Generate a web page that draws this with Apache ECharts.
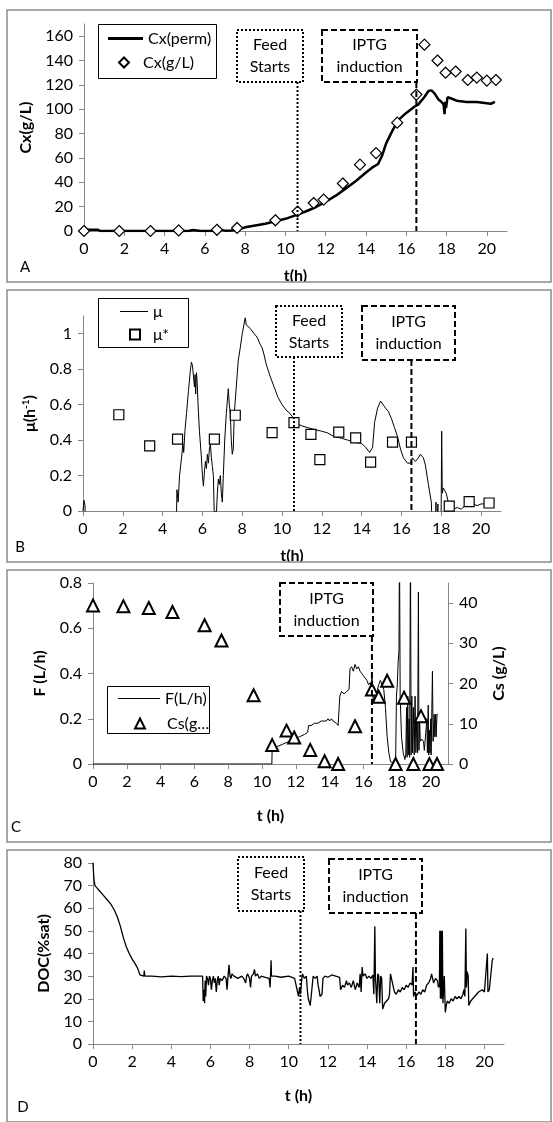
<!DOCTYPE html>
<html lang="en">
<head>
<meta charset="UTF-8">
<title>Fed-batch culture</title>
<script src="https://cdn.jsdelivr.net/npm/echarts@6/dist/echarts.min.js"></script>
<style>body{margin:0;background:#fff}</style>
</head>
<body>
<div id="main" style="width:553px;height:1122px;"></div>
<script type="text/javascript">
// ---- data ----
var tTicks = [0, 2, 4, 6, 8, 10, 12, 14, 16, 18, 20];
var feedT = 10.6;   // feed starts
var iptgT = 16.5;   // IPTG induction

// A: biomass
var cxPerm = [[0,1],[0.3,1],[0.7,1],[0.8,0],[2,0],[4,0],[5.2,0],[5.4,0.8],[5.6,0.5],[5.8,0],[6.5,0],[6.7,1.2],[7.0,0.3],[7.3,0.5],[7.6,1],[8.0,3],[8.5,4.5],[9.0,6],[9.5,8],[10.0,10],[10.6,13.5],[11.0,16],[11.5,19.5],[12.0,24],[12.5,29],[13.0,35],[13.5,41],[14.0,48],[14.3,52],[14.6,55],[14.8,62],[15.0,72],[15.3,82],[15.6,91],[16.0,97],[16.4,102],[16.6,104],[16.9,110],[17.1,115],[17.25,115.5],[17.4,113],[17.6,108],[17.75,106],[17.85,104],[17.9,96],[17.93,106],[17.97,101],[18.05,110],[18.2,109],[18.5,107],[19.0,106],[19.5,106],[20.0,105],[20.2,104.5],[20.4,106]];
var cxSampleT = [0,1.75,3.3,4.7,6.6,7.6,9.5,10.6,11.4,11.9,12.85,13.7,14.5,15.55,16.5,16.9,17.55,17.95,18.45,19.05,19.5,20.0,20.45];
var cxSample  = [0,0,0,0.5,1,2.5,8.8,16,23,25.8,39,54.5,64,89,112,153,140,130,131,124,126,123.5,124];

// B: specific growth rate
var muCurve = [[0,0],[0.05,0.06],[0.1,0.03],[0.15,-0.3],[4.65,-0.3],[4.72,0.12],[4.78,0.05],[4.85,0.2],[4.95,0.3],[5.02,0.38],[5.06,0.33],[5.12,0.45],[5.2,0.55],[5.3,0.68],[5.4,0.8],[5.45,0.84],[5.5,0.82],[5.55,0.83],[5.6,0.7],[5.63,0.77],[5.66,0.66],[5.7,0.78],[5.74,0.72],[5.78,0.6],[5.85,0.45],[5.95,0.3],[6.0,0.2],[6.05,0.14],[6.1,0.22],[6.15,0.28],[6.2,0.24],[6.25,0.32],[6.3,0.27],[6.35,0.35],[6.4,0.38],[6.45,0.3],[6.5,0.25],[6.55,0.2],[6.6,-0.05],[6.65,0.0],[6.7,-0.02],[6.75,0.1],[6.8,0.18],[6.85,0.15],[6.9,0.2],[6.95,0.1],[7.0,0.05],[7.05,0.2],[7.12,0.4],[7.2,0.55],[7.3,0.69],[7.35,0.6],[7.4,0.55],[7.45,0.4],[7.5,0.32],[7.55,0.35],[7.6,0.55],[7.7,0.7],[7.8,0.85],[7.9,0.92],[8.0,1.0],[8.1,1.06],[8.15,1.09],[8.2,1.05],[8.3,1.06],[8.4,1.03],[8.5,1.02],[8.6,1.0],[8.75,0.98],[8.9,0.94],[9.0,0.92],[9.1,0.88],[9.2,0.83],[9.4,0.76],[9.6,0.7],[9.8,0.64],[10.0,0.6],[10.2,0.57],[10.4,0.55],[10.6,0.52],[10.8,0.49],[11.0,0.48],[11.3,0.47],[11.6,0.46],[12.0,0.45],[12.3,0.44],[12.6,0.42],[13.0,0.41],[13.3,0.4],[13.6,0.39],[14.0,0.38],[14.2,0.36],[14.4,0.33],[14.5,0.32],[14.55,0.36],[14.65,0.5],[14.8,0.58],[14.95,0.62],[15.05,0.61],[15.2,0.58],[15.35,0.56],[15.5,0.52],[15.65,0.47],[15.8,0.42],[15.95,0.35],[16.1,0.3],[16.3,0.27],[16.45,0.27],[16.55,0.3],[16.7,0.28],[16.85,0.3],[16.95,0.32],[17.1,0.3],[17.2,0.26],[17.35,0.15],[17.5,0.05],[17.6,-0.3],[17.72,-0.3],[17.73,0.05],[17.74,-0.3],[17.82,-0.3],[17.83,0.04],[17.84,-0.3],[17.97,-0.3],[18.0,0.1],[18.02,0.45],[18.05,0.1],[18.1,0.13],[18.15,0.14],[18.25,0.1],[18.35,0.05],[18.5,0.03],[18.6,0.01],[18.8,0.02],[19.0,0.01],[19.2,0.03],[19.4,0.05],[19.6,0.04],[19.8,0.03],[20.0,0.04],[20.2,0.04],[20.45,0.05]];
var muStarT = [1.8,3.35,4.75,6.6,7.65,9.5,10.6,11.45,11.9,12.85,13.7,14.45,15.55,16.5,18.4,19.4,20.4];
var muStar  = [0.543,0.367,0.406,0.406,0.54,0.442,0.498,0.432,0.29,0.445,0.412,0.276,0.389,0.389,0.028,0.053,0.045];

// C: feed rate and substrate
var feedRate = [[0,0],[10.58,0],[10.6,0.08],[10.8,0.075],[11.0,0.08],[11.3,0.09],[11.6,0.1],[11.9,0.11],[12.2,0.12],[12.5,0.13],[12.7,0.14],[12.75,0.17],[12.9,0.17],[13.0,0.165],[13.1,0.18],[13.3,0.18],[13.5,0.19],[13.6,0.185],[13.8,0.19],[13.9,0.2],[14.0,0.19],[14.1,0.2],[14.2,0.19],[14.4,0.18],[14.5,0.17],[14.6,0.3],[14.7,0.32],[14.85,0.31],[15.0,0.32],[15.15,0.33],[15.2,0.42],[15.3,0.43],[15.4,0.41],[15.5,0.44],[15.6,0.42],[15.7,0.43],[15.8,0.41],[15.9,0.4],[16.0,0.39],[16.1,0.38],[16.2,0.37],[16.3,0.35],[16.4,0.36],[16.45,0.33],[16.5,0.4],[16.55,0.3],[16.6,0.27],[16.65,0.33],[16.7,0.3],[16.8,0.32],[16.9,0.35],[17.0,0.37],[17.1,0.37],[17.2,0.33],[17.3,0.25],[17.4,0.12],[17.5,0.05],[17.6,0.01],[17.9,0.0],[17.95,0.3],[18.0,0.35],[18.05,0.45],[18.1,0.5],[18.13,1.0],[18.17,0.3],[18.25,0.12],[18.35,0.05],[18.45,0.02],[18.5,0.04],[18.55,0.25],[18.58,0.03],[18.62,0.3],[18.65,0.04],[18.7,0.2],[18.73,0.03],[18.78,1.0],[18.82,0.04],[18.86,0.3],[18.9,0.05],[18.95,0.25],[19.0,0.04],[19.05,0.3],[19.1,0.05],[19.15,0.2],[19.2,0.05],[19.25,0.76],[19.28,0.06],[19.32,0.2],[19.36,0.1],[19.45,0.11],[19.55,0.1],[19.6,0.06],[19.7,0.06],[19.75,0.2],[19.78,0.05],[19.83,0.26],[19.86,0.04],[19.9,0.15],[19.93,0.05],[19.98,0.2],[20.0,0.04],[20.08,0.41],[20.12,0.1],[20.18,0.22],[20.22,0.12],[20.27,0.22],[20.3,0.12],[20.35,0.22],[20.4,0.22]];
var csT = [0,1.8,3.3,4.7,6.6,7.6,9.5,10.6,11.45,11.9,12.85,13.7,14.5,15.5,16.5,16.9,17.4,17.9,18.4,18.95,19.4,19.9,20.35];
var cs  = [39.4,39.2,38.8,37.8,34.5,30.7,17.1,4.7,8.3,6.6,3.5,0.7,0,9.4,18.5,16.7,20.7,0,16.5,0,11.9,0,0];

// D: dissolved oxygen
var doc = [[0,80],[0.03,75],[0.06,72],[0.1,70],[0.2,69],[0.35,67.5],[0.5,66],[0.7,64],[0.9,62],[1.1,59],[1.25,56],[1.4,52],[1.55,47],[1.7,43],[1.85,40],[2.0,37.5],[2.15,35.5],[2.25,34],[2.3,33],[2.4,30.5],[2.5,30],[2.6,30],[2.62,32.5],[2.65,30],[3.0,30],[3.5,29.7],[4.0,30],[4.5,29.8],[5.0,30],[5.6,30],[5.63,19],[5.67,24],[5.7,18],[5.73,28],[5.76,21],[5.8,30],[5.85,29],[5.9,26],[5.95,30],[6.0,29],[6.05,24],[6.1,28],[6.15,30],[6.2,27],[6.25,29],[6.3,23],[6.35,28],[6.4,30],[6.45,26],[6.5,29],[6.6,28],[6.7,30],[6.8,29],[6.85,24],[6.9,30],[6.95,35],[7.0,30],[7.05,29],[7.1,31],[7.2,30],[7.4,29],[7.6,30],[7.7,29],[7.8,27],[7.85,30],[7.9,31],[8.0,29],[8.05,25],[8.1,30],[8.2,31],[8.25,33],[8.3,30],[8.4,31],[8.5,29],[8.6,30],[8.8,29.5],[9.0,29],[9.05,25],[9.1,37],[9.12,30],[9.3,30],[9.6,29.5],[10.0,30],[10.3,29],[10.4,25],[10.45,23],[10.5,21],[10.55,25],[10.6,22],[10.65,27],[10.7,31],[10.8,29],[10.9,30],[10.95,24],[11.0,20],[11.1,17],[11.2,17.5],[11.25,30],[11.35,29],[11.45,30],[11.5,26],[11.55,24],[11.6,21],[11.7,22],[11.75,29],[11.85,30],[12.0,29.5],[12.2,30.5],[12.4,30],[12.6,29.5],[12.65,24],[12.75,26],[12.85,25],[12.95,28],[13.0,26],[13.1,27],[13.2,25],[13.3,28],[13.4,24],[13.5,27],[13.6,25],[13.65,31],[13.7,23],[13.75,34],[13.8,30],[13.9,31],[14.0,29],[14.1,30],[14.2,29],[14.3,30.5],[14.35,22],[14.4,52],[14.43,30],[14.5,18],[14.55,31],[14.6,30],[14.65,18],[14.7,30],[14.75,29],[14.8,15.5],[14.9,18],[15.0,19],[15.1,20],[15.15,22],[15.2,31],[15.25,29],[15.3,27],[15.4,23],[15.5,22],[15.6,24],[15.7,23],[15.8,25],[15.9,24],[16.0,26],[16.1,25],[16.2,27],[16.3,26],[16.35,34],[16.38,21],[16.45,23],[16.55,21.5],[16.65,23],[16.75,22],[16.85,24],[16.95,23],[17.05,26],[17.15,27],[17.25,29],[17.3,31],[17.4,27],[17.5,29],[17.6,28],[17.65,25],[17.7,26],[17.72,50],[17.75,20],[17.78,50],[17.82,20],[17.85,50],[17.88,18],[17.95,30],[18.0,14],[18.05,17],[18.1,19],[18.2,18],[18.3,20],[18.4,19],[18.5,21],[18.6,20],[18.7,21],[18.8,20],[18.9,22],[18.95,24],[19.0,21],[19.05,51],[19.08,25],[19.12,32],[19.17,30],[19.2,17],[19.3,19],[19.4,20],[19.5,21],[19.6,22],[19.7,23],[19.8,23],[19.9,24],[20.0,23],[20.1,23.5],[20.15,40],[20.18,23],[20.25,24],[20.3,24],[20.4,37],[20.45,38]];

// ---- helpers ----
var FONT = 'Lato';
var AXC = '#868686';
function zip(xs, ys) { return xs.map(function (x, i) { return [x, ys[i]]; }); }

function xAxis(g, name, gap) {
    return {
        type: 'value', gridIndex: g, min: 0, max: 21,
        name: name, nameLocation: 'middle', nameGap: gap,
        nameTextStyle: { fontFamily: FONT, fontSize: 16, fontWeight: 'bold', color: '#000' },
        axisLine: { lineStyle: { color: AXC, width: 1 } },
        axisTick: { length: 5, lineStyle: { color: AXC }, customValues: tTicks },
        axisLabel: { customValues: tTicks, fontFamily: FONT, fontSize: 16, color: '#000', margin: 10 },
        splitLine: { show: false }
    };
}
function yAxis(g, min, max, ticks, name, gap, pos) {
    return {
        type: 'value', gridIndex: g, min: min, max: max, position: pos || 'left',
        name: name, nameLocation: 'middle', nameGap: gap, nameRotate: 90,
        nameTextStyle: {
            fontFamily: FONT, fontSize: 16, fontWeight: 'bold', color: '#000',
            rich: { s: { fontFamily: FONT, fontSize: 10, fontWeight: 'bold', color: '#000', verticalAlign: 'top', lineHeight: 18 },
                    n: { fontFamily: FONT, fontSize: 16, fontWeight: 'bold', color: '#000', lineHeight: 18 } }
        },
        axisLine: { show: true, lineStyle: { color: AXC, width: 1 } },
        axisTick: { show: true, length: 5, lineStyle: { color: AXC }, customValues: ticks },
        axisLabel: { customValues: ticks, fontFamily: FONT, fontSize: 16, color: '#000', margin: 11 },
        splitLine: { show: false }
    };
}
function hollow(name, sym, size, xi, yi, data, bw) {
    return {
        name: name, type: 'scatter', xAxisIndex: xi, yAxisIndex: yi, data: data,
        symbol: sym, symbolSize: size, z: 4,
        itemStyle: { color: '#fff', borderColor: '#000', borderWidth: bw || 1.2, opacity: 1 }
    };
}
function curve(name, xi, yi, data, w) {
    return {
        name: name, type: 'line', xAxisIndex: xi, yAxisIndex: yi, data: data,
        symbol: 'none', showSymbol: false, animation: false, clip: true, z: 3,
        lineStyle: { color: '#000', width: w }, itemStyle: { color: '#000' }
    };
}
// one legend entry; the frame round each legend is drawn as a graphic below
function legendItem(name, icon, left, top, iw, ih, textPad, label) {
    return {
        data: [{ name: name, icon: icon }], left: left, top: top, orient: 'vertical',
        selectedMode: false, padding: 0, itemWidth: iw, itemHeight: ih,
        textStyle: { fontFamily: FONT, fontSize: 16, color: '#000', lineHeight: 17, padding: [0, 0, 0, textPad] },
        formatter: function () { return label || name; }
    };
}

var chart = echarts.init(document.getElementById('main'));
var option = {
    backgroundColor: '#fff',
    animation: false,
    grid: [
        { left: 84, top: 24, width: 423, height: 207 },
        { left: 83, top: 316, width: 418, height: 195 },
        { left: 93, top: 583, width: 355, height: 181 },
        { left: 93, top: 863, width: 411, height: 181 }
    ],
    xAxis: [xAxis(0, 't(h)', 37), xAxis(1, 't(h)', 37), xAxis(2, 't (h)', 44), xAxis(3, 't (h)', 44)],
    yAxis: [
        yAxis(0, 0, 170, [0, 20, 40, 60, 80, 100, 120, 140, 160], 'Cx(g/L)', 47),
        yAxis(1, 0, 1.1, [0, 0.2, 0.4, 0.6, 0.8, 1], '{n|μ(h}{s|-1}{n|)}', 44),
        yAxis(2, 0, 0.8, [0, 0.2, 0.4, 0.6, 0.8], 'F (L/h)', 45),
        yAxis(2, 0, 45, [0, 10, 20, 30, 40], 'Cs (g/L)', 43, 'right'),
        yAxis(3, 0, 80, [0, 10, 20, 30, 40, 50, 60, 70, 80], 'DOC(%sat)', 41)
    ],
    legend: [
        legendItem('Cx(perm)', 'rect', 108, 30, 35, 3, 0),
        legendItem('Cx(g/L)', 'diamond', 118, 54, 10, 10, 9),
        legendItem('μ', 'rect', 120, 303, 28, 1, 0),
        legendItem('μ*', 'rect', 129, 326, 10, 10, 8),
        legendItem('F(L/h)', 'rect', 118, 690, 42, 1, 0),
        legendItem('Cs(g/L)', 'triangle', 134, 715, 10, 10, 17, 'Cs(g…')
    ],
    series: [
        curve('Cx(perm)', 0, 0, cxPerm, 2.5),
        hollow('Cx(g/L)', 'diamond', 11, 0, 0, zip(cxSampleT, cxSample), 1.2),
        curve('μ', 1, 1, muCurve, 1),
        hollow('μ*', 'rect', 10, 1, 1, zip(muStarT, muStar), 1.2),
        curve('F(L/h)', 2, 2, feedRate, 1),
        hollow('Cs(g/L)', 'triangle', 12, 2, 3, zip(csT, cs), 2),
        curve('DOC', 3, 4, doc, 1.3)
    ]
};
chart.setOption(option);

// ---- annotation boxes, marker lines, legend frames, panel frames ----
var notes = [
    { g: 0, t: feedT, text: 'Feed\nStarts', dash: [2, 2], box: [237, 30, 66, 52] },
    { g: 0, t: iptgT, text: 'IPTG\ninduction', dash: [6, 3], box: [322, 30, 95, 52] },
    { g: 1, t: feedT, text: 'Feed\nStarts', dash: [2, 2], box: [276, 306, 66, 51] },
    { g: 1, t: iptgT, text: 'IPTG\ninduction', dash: [6, 3], box: [362, 306, 93, 54] },
    { g: 2, t: iptgT, text: 'IPTG\ninduction', dash: [6, 3], box: [280, 583, 93, 53] },
    { g: 3, t: feedT, text: 'Feed\nStarts', dash: [2, 2], box: [238, 857, 66, 54] },
    { g: 3, t: iptgT, text: 'IPTG\ninduction', dash: [6, 3], box: [329, 859, 93, 54] }
];
var graphics = [];
notes.forEach(function (n) {
    var b = n.box;
    var p = chart.convertToPixel({ gridIndex: n.g }, [n.t, 0]);
    graphics.push({
        type: 'line', z: 20,
        shape: { x1: p[0], y1: b[1] + b[3], x2: p[0], y2: p[1] },
        style: { stroke: '#000', lineWidth: 2, lineDash: n.dash }
    });
    graphics.push({
        type: 'rect', z: 21,
        shape: { x: b[0], y: b[1], width: b[2], height: b[3] },
        style: { fill: '#fff', stroke: '#000', lineWidth: 2, lineDash: n.dash }
    });
    graphics.push({
        type: 'text', z: 22, x: b[0] + b[2] / 2, y: b[1] + b[3] / 2,
        style: { text: n.text, fill: '#000', fontFamily: FONT, fontSize: 16, lineHeight: 22, align: 'center', verticalAlign: 'middle' }
    });
});
[[98, 24, 118, 54], [98, 298, 90, 49], [107, 686, 102, 47]].forEach(function (b) {
    graphics.push({
        type: 'rect', z: 0,
        shape: { x: b[0] + 0.5, y: b[1] + 0.5, width: b[2], height: b[3] },
        style: { fill: '#fff', stroke: '#000', lineWidth: 1 }
    });
});
// gaps between panels (the x-axis titles of A and B are cut by them)
[282, 562].forEach(function (y) {
    graphics.push({ type: 'rect', z: 50, shape: { x: 0, y: y, width: 553, height: 8 }, style: { fill: '#fff' } });
});
[10, 290, 570, 850].forEach(function (y) {
    graphics.push({
        type: 'rect', z: 51, shape: { x: 7, y: y, width: 544, height: 272 },
        style: { fill: null, stroke: '#8c8c8c', lineWidth: 1.5 }
    });
});
[['A', 25, 267], ['B', 20, 547], ['C', 16, 827], ['D', 23, 1107]].forEach(function (l) {
    graphics.push({
        type: 'text', z: 52, x: l[1], y: l[2],
        style: { text: l[0], fill: '#000', fontFamily: FONT, fontSize: 15, align: 'center', verticalAlign: 'middle' }
    });
});
chart.setOption({ graphic: graphics });
</script>
</body>
</html>
